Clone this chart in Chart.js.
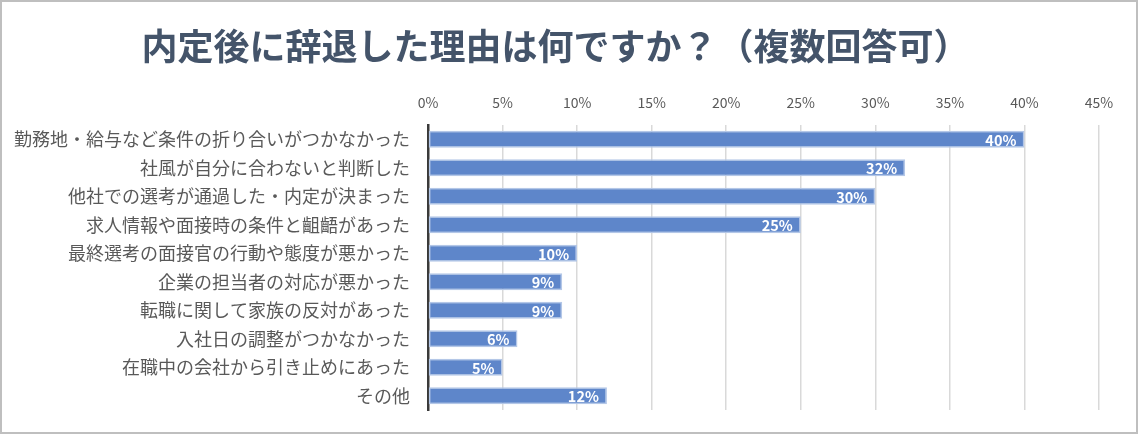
<!DOCTYPE html>
<html><head><meta charset="utf-8">
<script src="https://cdn.jsdelivr.net/npm/chart.js@4.4.1/dist/chart.umd.min.js"></script>
<style>html,body{margin:0;padding:0;background:#fff}#wrap{position:relative;width:1138px;height:434px}</style>
</head><body><div id="wrap"><canvas id="c" width="1138" height="434"></canvas></div>
<script>
const titleText = '内定後に辞退した理由は何ですか？（複数回答可）';
const categories = [
  '勤務地・給与など条件の折り合いがつかなかった',
  '社風が自分に合わないと判断した',
  '他社での選考が通過した・内定が決まった',
  '求人情報や面接時の条件と齟齬があった',
  '最終選考の面接官の行動や態度が悪かった',
  '企業の担当者の対応が悪かった',
  '転職に関して家族の反対があった',
  '入社日の調整がつかなかった',
  '在職中の会社から引き止めにあった',
  'その他'
];
const values = [40, 32, 30, 25, 10, 9, 9, 6, 5, 12];
const tickValues = [0, 5, 10, 15, 20, 25, 30, 35, 40, 45];

const FONT = '"Noto Sans CJK JP", "Noto Sans", sans-serif';

const frame = {
  id: 'frame',
  beforeDraw(chart) {
    const ctx = chart.ctx;
    ctx.save();
    ctx.fillStyle = '#fff';
    ctx.fillRect(0, 0, chart.width, chart.height);
    ctx.restore();
  },
  afterDraw(chart) {
    const ctx = chart.ctx;
    ctx.save();
    ctx.strokeStyle = '#bfbfbf';
    ctx.lineWidth = 2;
    ctx.strokeRect(1, 1, chart.width - 2, chart.height - 2);
    ctx.restore();
  }
};

const barLabels = {
  id: 'barLabels',
  afterDatasetsDraw(chart) {
    const ctx = chart.ctx;
    const meta = chart.getDatasetMeta(0);
    ctx.save();
    ctx.font = 'bold 14.5px ' + FONT;
    ctx.fillStyle = '#ffffff';
    ctx.textAlign = 'right';
    ctx.textBaseline = 'middle';
    meta.data.forEach((bar, i) => {
      ctx.fillText(values[i] + '%', bar.x - 8, bar.y + 1);
    });
    ctx.restore();
  }
};

new Chart(document.getElementById('c'), {
  type: 'bar',
  data: {
    labels: categories,
    datasets: [{
      data: values,
      backgroundColor: '#5e86ca',
      borderColor: '#b4c7e7',
      borderWidth: 1.5,
      borderSkipped: false,
      barPercentage: 0.6,
      categoryPercentage: 1.0
    }]
  },
  options: {
    indexAxis: 'y',
    responsive: false,
    animation: false,
    layout: { padding: { left: 12, right: 39, top: 0, bottom: 24 } },
    plugins: {
      legend: { display: false },
      tooltip: { enabled: false },
      title: {
        display: true,
        text: titleText,
        color: '#44546a',
        font: { family: FONT, size: 36, weight: 'bold' },
        padding: { top: 25, bottom: 12 }
      }
    },
    scales: {
      x: {
        position: 'top',
        min: 0,
        max: 45,
        afterBuildTicks(scale) { scale.ticks = tickValues.map(v => ({ value: v })); },
        ticks: {
          callback: v => v + '%',
          color: '#595959',
          font: { family: FONT, size: 14 },
          padding: 14,
          maxRotation: 0
        },
        grid: { color: '#d9d9d9', lineWidth: 1.5, drawTicks: false },
        border: { display: false }
      },
      y: {
        afterFit(scale) {
          scale.width = 416;
          scale.paddingTop = 0;
          scale.paddingBottom = 0;
        },
        ticks: {
          color: '#595959',
          font: { family: FONT, size: 18 },
          padding: 18
        },
        grid: { display: false, drawTicks: false },
        border: { display: true, color: '#3a3a3a', width: 2.5 }
      }
    }
  },
  plugins: [frame, barLabels]
});
</script></body></html>
